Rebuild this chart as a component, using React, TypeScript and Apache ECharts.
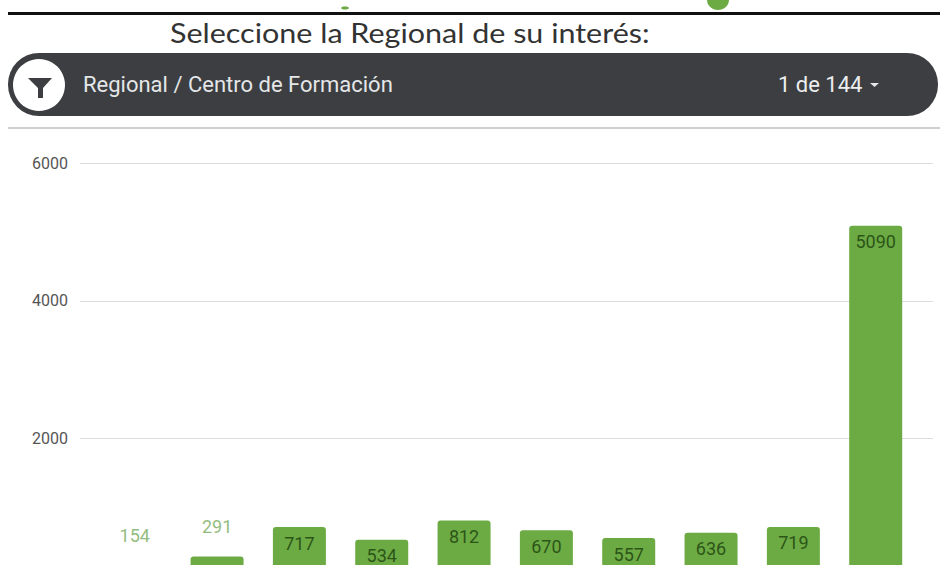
import React, { useEffect, useRef } from "react";
import * as echarts from "echarts";

const positions = [0, 1, 2, 3, 4, 5, 6, 7, 8, 9];
const values = [154, 291, 717, 534, 812, 670, 557, 636, 719, 5090];
const outsideLabelLimit = 300;
const yTicks = [0, 2000, 4000, 6000];
const titleText = "Seleccione la Regional de su interés:";
const filterText = "Regional / Centro de Formación";
const pageText = "1 de 144";

export default function App() {
  const ref = useRef<HTMLDivElement>(null);
  useEffect(() => {
    document.body.style.margin = "0";
    document.body.style.background = "#fff";
    const chart = echarts.init(ref.current!, undefined, { renderer: "svg" });
    chart.setOption({
      animation: false,
      backgroundColor: "#fff",
      grid: { left: 80, right: 7, top: 163, height: 413.5, outerBoundsMode: "none", containLabel: false },
      xAxis: { type: "value", min: -0.665, max: 9.696, show: false },
      yAxis: {
        type: "value",
        min: yTicks[0],
        max: yTicks[yTicks.length - 1],
        interval: 2000,
        axisLine: { show: false },
        axisTick: { show: false },
        axisLabel: {
          color: "#555",
          fontFamily: "Roboto",
          fontSize: 16,
          margin: 12,
          showMinLabel: false,
          formatter: (v: number) => String(v),
        },
        splitLine: { lineStyle: { color: "#dcdcdc", width: 1 } },
      },
      series: [
        {
          type: "bar",
          barWidth: 53,
          data: positions.map((p, i) => {
            const outside = values[i] < outsideLabelLimit;
            return {
              value: [p, values[i]],
              label: outside
                ? { show: true, position: "top", distance: 21, color: "#93bd80", fontFamily: "Roboto", fontSize: 18 }
                : { show: true, position: "insideTop", distance: 7, color: "#2c5518", fontFamily: "Roboto", fontSize: 18 },
            };
          }),
          itemStyle: { color: "#6cab44", borderRadius: [3, 3, 0, 0] },
          label: { formatter: (p: any) => String(p.value[1]) },
        },
      ],
      graphic: [
        { type: "ellipse", shape: { cx: 718, cy: 0, rx: 11, ry: 10 }, style: { fill: "#6cab44" }, z: 1 },
        { type: "ellipse", shape: { cx: 345, cy: 8, rx: 4, ry: 1.5 }, style: { fill: "#6cab44" }, z: 1 },
        { type: "rect", shape: { x: 8, y: 12, width: 932, height: 3 }, style: { fill: "#111" }, z: 2 },
        {
          type: "text", x: 170, y: 33, z: 3, scaleX: 1.173,
          style: { text: titleText, fill: "#333", font: "400 26px Lato", textVerticalAlign: "middle" },
        },
        { type: "rect", shape: { x: 8, y: 53, width: 930, height: 63, r: 31 }, style: { fill: "#3c3e41" }, z: 2 },
        { type: "circle", shape: { cx: 39, cy: 85, r: 26 }, style: { fill: "#fff" }, z: 3 },
        {
          type: "polygon", z: 4,
          shape: { points: [[28, 78], [52, 78], [43, 88], [43, 98], [38, 98], [38, 88]] },
          style: { fill: "#3c3e41" },
        },
        {
          type: "text", x: 83, y: 84, z: 4,
          style: { text: filterText, fill: "#e4e6e8", font: "400 22px Roboto", textVerticalAlign: "middle" },
        },
        {
          type: "text", x: 778, y: 84, z: 4,
          style: { text: pageText, fill: "#eceef0", font: "400 22px Roboto", textVerticalAlign: "middle" },
        },
        {
          type: "polygon", z: 4,
          shape: { points: [[870, 83], [879, 83], [874.5, 87]] },
          style: { fill: "#e4e6e8" },
        },
        { type: "rect", shape: { x: 8, y: 127, width: 932, height: 2 }, style: { fill: "#cfcfcf" }, z: 2 },
      ],
    });
    return () => chart.dispose();
  }, []);
  return <div ref={ref} style={{ width: 940, height: 565 }} />;
}
